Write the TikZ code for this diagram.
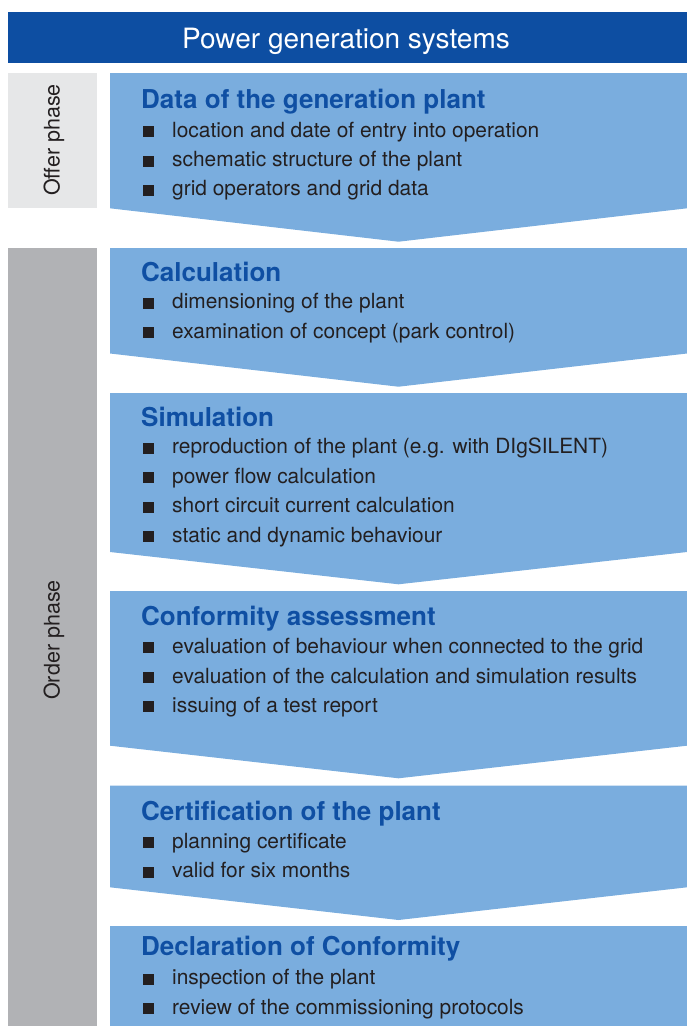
\documentclass[tikz,border=0pt]{standalone}
\usepackage{fontspec}
\setmainfont{TeX Gyre Heros}
\definecolor{hdrblue}{HTML}{0D4EA2}
\definecolor{boxblue}{HTML}{7AADDE}
\definecolor{titleblue}{HTML}{0F4FA3}
\definecolor{offergray}{HTML}{E6E7E8}
\definecolor{ordergray}{HTML}{B1B2B5}
\definecolor{ink}{HTML}{231F20}
\tikzset{
    title/.style={anchor=base west, inner sep=0, text=titleblue, font=\fontsize{26}{30}\selectfont\bfseries},
    item/.style={anchor=base west, inner sep=0, text=ink, font=\fontsize{20.9}{24}\selectfont},
    phase/.style={rotate=90, inner sep=0, text=ink, font=\fontsize{21.5}{24}\selectfont}
}
% blue step box: top, bottom of the sides, tip of the arrow
\newcommand{\Chevron}[3]{
    \fill[boxblue] (110,#1) -- (687,#1) -- (687,#2) -- (398.5,#3) -- (110,#2) -- cycle;
}
% bullet line: name, baseline, text
\newcommand{\Item}[3]{
    \fill[ink] (143,#2-11) rectangle (154,#2);
    \node[item] (#1) at (172,#2) {#3};
}
\begin{document}
\begin{tikzpicture}[x=1pt,y=-1pt]
    \useasboundingbox (0,0) rectangle (687,1026);
    \fill[hdrblue] (8,12) rectangle (687,63);
    \node[anchor=base, inner sep=0, text=white, font=\fontsize{28}{32}\selectfont] (header) at (346,48) {Power generation systems};
    \fill[offergray] (8,73) rectangle (97,208);
    \fill[ordergray] (8,248) rectangle (97,1026);
    \node[phase] (offer) at (54,140) {Offer phase};
    \node[phase] (order) at (54,640) {Order phase};
    \Chevron{73}{208.3}{241.7}
    \Chevron{248}{353.5}{386.7}
    \Chevron{393}{552}{584.3}
    \Chevron{591}{745.7}{778.3}
    \Chevron{785.5}{887.3}{920}
    \fill[boxblue] (110,926) rectangle (687,1026);
    \node[title] (data) at (141,108) {Data of the generation plant};
    \Item{data1}{137.3}{location and date of entry into operation}
    \Item{data2}{166.5}{schematic structure of the plant}
    \Item{data3}{195.5}{grid operators and grid data}
    \node[title] (calc) at (141,281.5) {Calculation};
    \Item{calc1}{308.5}{dimensioning of the plant}
    \Item{calc2}{338}{examination of concept (park control)}
    \node[title] (sim) at (141,426) {Simulation};
    \Item{sim1}{453.5}{reproduction of the plant (e.g. with DIgSILENT)}
    \Item{sim2}{483}{power flow calculation}
    \Item{sim3}{512.5}{short circuit current calculation}
    \Item{sim4}{542}{static and dynamic behaviour}
    \node[title] (conf) at (141,625) {Conformity assessment};
    \Item{conf1}{653}{evaluation of behaviour when connected to the grid}
    \Item{conf2}{683}{evaluation of the calculation and simulation results}
    \Item{conf3}{712}{issuing of a test report}
    \node[title] (cert) at (141,820) {Certification of the plant};
    \Item{cert1}{848}{planning certificate}
    \Item{cert2}{877.5}{valid for six months}
    \node[title] (decl) at (141,955) {Declaration of Conformity};
    \Item{decl1}{984.5}{inspection of the plant}
    \Item{decl2}{1014}{review of the commissioning protocols}
\end{tikzpicture}
\end{document}
